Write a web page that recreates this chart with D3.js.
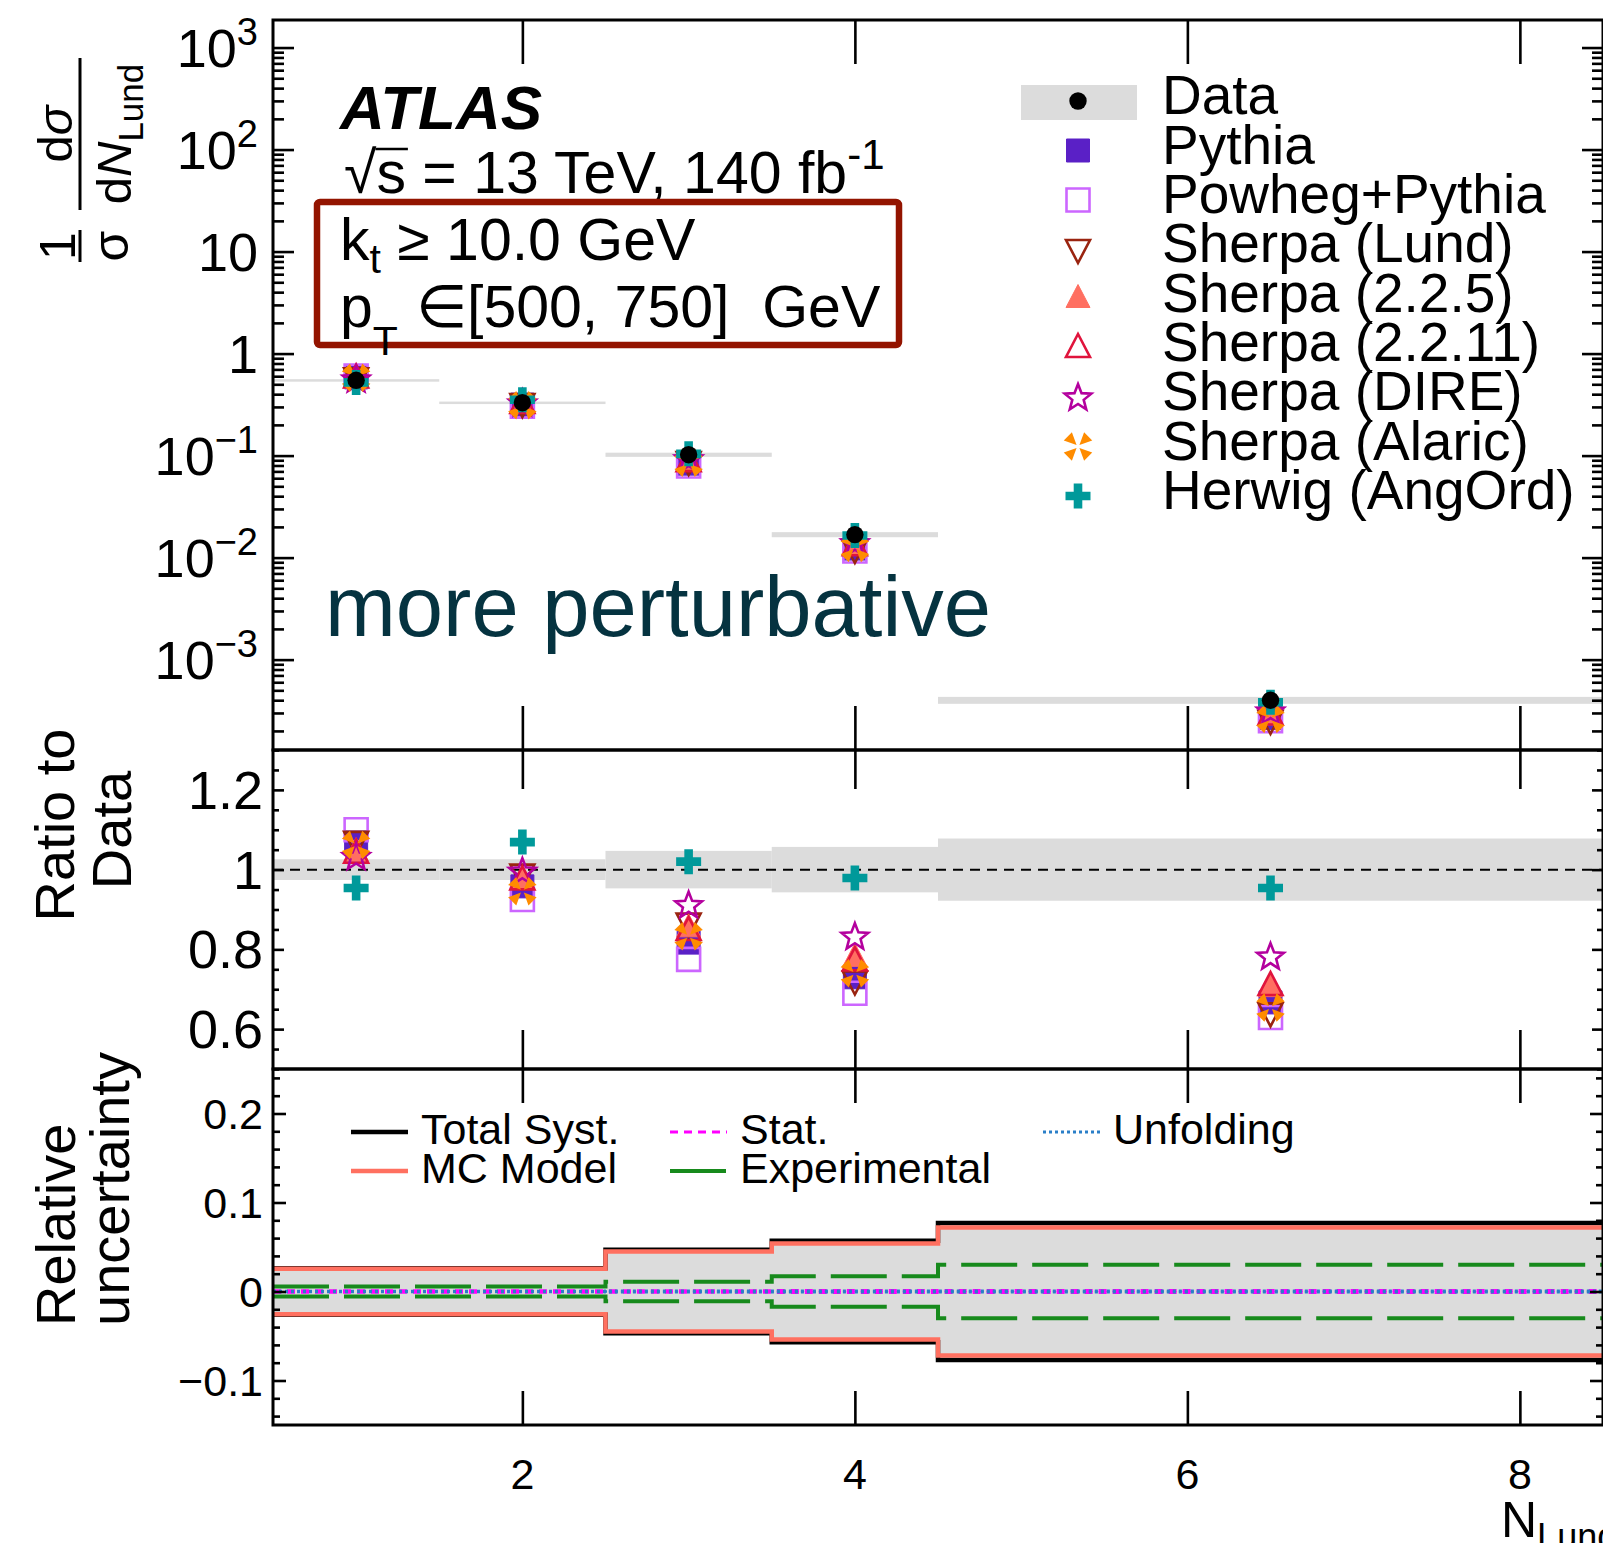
<!DOCTYPE html>
<html>
<head>
<meta charset="utf-8">
<script src="https://cdn.jsdelivr.net/npm/d3@7"></script>
<style>
  html, body { margin: 0; padding: 0; background: #fff; }
  svg { display: block; }
  text { font-family: "Liberation Sans", Arial, Helvetica, sans-serif; fill: #000; }
</style>
</head>
<body>
<svg id="chart" width="1603" height="1543"></svg>
<script>
// ---------------- data ----------------
const binEdges   = [0.5, 1.5, 2.5, 3.5, 4.5, 8.5];
const binCenters = [1, 2, 3, 4, 6.5];
const dataValues = [0.547, 0.330, 0.102, 0.0168, 0.00040];
const dataUnc    = [0.026, 0.026, 0.047, 0.057, 0.078];

const modelNames = ["Pythia", "Powheg+Pythia", "Sherpa (Lund)", "Sherpa (2.2.5)",
                    "Sherpa (2.2.11)", "Sherpa (DIRE)", "Sherpa (Alaric)", "Herwig (AngOrd)"];
const ratioPythia     = [1.068, 0.958, 0.817, 0.730, 0.667];
const ratioPowheg     = [1.100, 0.925, 0.775, 0.690, 0.629];
const ratioSherpaLund = [1.072, 0.990, 0.867, 0.722, 0.642];
const ratioSherpa225  = [1.045, 0.975, 0.854, 0.780, 0.704];
const ratioSherpa2211 = [1.040, 0.973, 0.846, 0.770, 0.708];
const ratioSherpaDire = [1.033, 0.996, 0.912, 0.833, 0.783];
const ratioSherpaAlaric = [1.062, 0.946, 0.833, 0.740, 0.654];
const ratioHerwig     = [0.954, 1.069, 1.020, 0.979, 0.954];

// relative uncertainties
const uncTotalSyst    = [0.026, 0.026, 0.047, 0.057, 0.077];
const uncMCModel      = [0.0255, 0.0255, 0.045, 0.054, 0.072];
const uncExperimental = [0.0055, 0.0055, 0.011, 0.017, 0.030];
const uncStat         = [0.0008, 0.0008, 0.0009, 0.0010, 0.0012];
const uncUnfolding    = [0.0004, 0.0004, 0.0005, 0.0005, 0.0006];

const topMajorTicks = [1e-3, 1e-2, 1e-1, 1, 10, 100, 1000];
const topTickLabels = [["10", "\u22123"], ["10", "\u22122"], ["10", "\u22121"], ["1", ""], ["10", ""], ["10", "2"], ["10", "3"]];
const ratioTicks = [0.6, 0.8, 1.0, 1.2];
const ratioTickLabels = ["0.6", "0.8", "1", "1.2"];
const uncTicks = [-0.1, 0, 0.1, 0.2];
const uncTickLabels = ["\u22120.1", "0", "0.1", "0.2"];
const xTicks = [2, 4, 6, 8];
const xTickLabels = ["2", "4", "6", "8"];

// ---------------- styles ----------------
const modelRatios = [ratioPythia, ratioPowheg, ratioSherpaLund, ratioSherpa225,
                     ratioSherpa2211, ratioSherpaDire, ratioSherpaAlaric, ratioHerwig];
const modelStyles = [
  {shape: "square", fill: "#5a20c6", stroke: "#5a20c6"},
  {shape: "square", fill: "none",    stroke: "#cc66ff"},
  {shape: "triDown", fill: "none",   stroke: "#9a2410"},
  {shape: "triUp", fill: "#ff6f61",  stroke: "#ff6f61"},
  {shape: "triUp", fill: "none",     stroke: "#e0143c"},
  {shape: "star", fill: "none",      stroke: "#b4009e"},
  {shape: "xTri", fill: "#ff8c00",   stroke: "none"},
  {shape: "cross", fill: "#00999a",  stroke: "none"}
];
const GREY = "#dcdcdc";

function markerPath(shape) {
  if (shape === "square") { const s = 23; return `M${-s/2},${-s/2}h${s}v${s}h${-s}Z`; }
  if (shape === "triDown") { return "M-12,-9L12,-9L0,14Z"; }
  if (shape === "triUp") { return "M-12,9L12,9L0,-14Z"; }
  if (shape === "star") {
    let p = []; const R = 14, r = 6;
    for (let k = 0; k < 10; k++) {
      const a = -Math.PI / 2 + k * Math.PI / 5, rr = k % 2 ? r : R;
      p.push([rr * Math.cos(a), rr * Math.sin(a) + 1]);
    }
    return "M" + p.map(d => d.join(",")).join("L") + "Z";
  }
  if (shape === "xTri") {
    let s = "";
    [45, 135, 225, 315].forEach(deg => {
      const a = deg * Math.PI / 180, w = 0.38, R = 15.5, r0 = 2;
      const p0 = [r0 * Math.cos(a), r0 * Math.sin(a)];
      const p1 = [R * Math.cos(a - w), R * Math.sin(a - w)];
      const p2 = [R * Math.cos(a + w), R * Math.sin(a + w)];
      s += `M${p0}L${p1}L${p2}Z`;
    });
    return s;
  }
  if (shape === "cross") {
    const L = 12.5, w = 4.3;
    return `M${-w},${-L}H${w}V${-w}H${L}V${w}H${w}V${L}H${-w}V${w}H${-L}V${-w}H${-w}Z`;
  }
}
function drawMarker(g, style, x, y) {
  g.append("path").attr("d", markerPath(style.shape))
    .attr("transform", `translate(${x},${y})`)
    .attr("fill", style.fill).attr("stroke", style.stroke)
    .attr("stroke-width", style.fill === "none" ? 2.6 : 1)
    .attr("stroke-linejoin", "miter");
}

// ---------------- layout ----------------
const svg = d3.select("#chart");
const X0 = 273, X1 = 1603;
const P1 = {t: 20, b: 750}, P2 = {t: 750, b: 1069}, P3 = {t: 1069, b: 1425};

const x = d3.scaleLinear().domain([0.5, 8.5]).range([X0, X1]);
const yTop = d3.scaleLog().domain([Math.pow(10, -3.886), Math.pow(10, 3.27)]).range([P1.b, P1.t]);
const yRat = d3.scaleLinear().domain([0.5, 1.3]).range([P2.b, P2.t]);
const yUnc = d3.scaleLinear().domain([-0.15, 0.25]).range([P3.b, P3.t]);

const bins = binCenters.map((c, i) => ({c, lo: binEdges[i], hi: binEdges[i + 1], i}));

// ================= TOP PANEL =================
const gTop = svg.append("g");
gTop.selectAll("rect.unc").data(bins).join("rect")
  .attr("x", d => x(d.lo)).attr("width", d => x(d.hi) - x(d.lo))
  .attr("y", d => yTop(dataValues[d.i] * (1 + dataUnc[d.i])))
  .attr("height", d => Math.max(2.5, yTop(dataValues[d.i] * (1 - dataUnc[d.i])) - yTop(dataValues[d.i] * (1 + dataUnc[d.i]))))
  .attr("fill", GREY);
modelRatios.forEach((r, m) => {
  bins.forEach(d => drawMarker(gTop, modelStyles[m], x(d.c), yTop(dataValues[d.i] * r[d.i])));
});
gTop.selectAll("circle.data").data(bins).join("circle")
  .attr("cx", d => x(d.c)).attr("cy", d => yTop(dataValues[d.i])).attr("r", 8.7).attr("fill", "#000");

// ================= RATIO PANEL =================
const gRat = svg.append("g");
gRat.selectAll("rect.band").data(bins).join("rect")
  .attr("x", d => x(d.lo)).attr("width", d => x(d.hi) - x(d.lo))
  .attr("y", d => yRat(1 + dataUnc[d.i])).attr("height", d => yRat(1 - dataUnc[d.i]) - yRat(1 + dataUnc[d.i]))
  .attr("fill", GREY);
gRat.append("line").attr("x1", X0).attr("x2", X1).attr("y1", yRat(1)).attr("y2", yRat(1))
  .attr("stroke", "#000").attr("stroke-width", 2).attr("stroke-dasharray", "10,7");
modelRatios.forEach((r, m) => {
  bins.forEach(d => drawMarker(gRat, modelStyles[m], x(d.c), yRat(r[d.i])));
});

// ================= UNCERTAINTY PANEL =================
const gUnc = svg.append("g");
function stepPts(vals, sign) {
  const pts = [];
  bins.forEach(d => { pts.push([d.lo, sign * vals[d.i]]); pts.push([d.hi, sign * vals[d.i]]); });
  return pts;
}
const stepLine = d3.line().x(p => x(p[0])).y(p => yUnc(p[1]));
const area = d3.area().x(p => x(p[0])).y0(p => yUnc(-p[1])).y1(p => yUnc(p[1]));
gUnc.append("path").attr("d", area(stepPts(uncTotalSyst, 1))).attr("fill", GREY);
function drawPair(vals, color, width, dash) {
  [1, -1].forEach(s => {
    gUnc.append("path").attr("d", stepLine(stepPts(vals, s)))
      .attr("fill", "none").attr("stroke", color).attr("stroke-width", width)
      .attr("stroke-dasharray", dash || null);
  });
}
drawPair(uncTotalSyst, "#000", 4.5);
drawPair(uncMCModel, "#ff7060", 4.5);
drawPair(uncExperimental, "#178a1c", 4, "56,15");
drawPair(uncStat, "#ff00ff", 3, "8,6");
drawPair(uncUnfolding, "#2a7fc8", 3, "3,3");

// ================= FRAMES & AXES =================
function frame(P, xMajor, yMain, yMajorVals, yMinorVals, yMajLen, yMinLen) {
  const g = svg.append("g");
  const axB = d3.axisBottom(x).tickValues(xTicks).tickSize(-xMajor).tickFormat("");
  const axT = d3.axisTop(x).tickValues(xTicks).tickSize(-xMajor).tickFormat("");
  g.append("g").attr("transform", `translate(0,${P.b})`).call(axB);
  g.append("g").attr("transform", `translate(0,${P.t})`).call(axT);
  [[d3.axisLeft, X0], [d3.axisRight, X1]].forEach(([fn, xp]) => {
    g.append("g").attr("transform", `translate(${xp},0)`).call(fn(yMain).tickValues(yMajorVals).tickSize(-yMajLen).tickFormat(""));
    g.append("g").attr("transform", `translate(${xp},0)`).call(fn(yMain).tickValues(yMinorVals).tickSize(-yMinLen).tickFormat(""));
  });
  g.selectAll(".domain").remove();
  g.selectAll(".tick line").attr("stroke", "#000").attr("stroke-width", 2.6);
  g.append("rect").attr("x", X0).attr("y", P.t).attr("width", X1 - X0).attr("height", P.b - P.t)
    .attr("fill", "none").attr("stroke", "#000").attr("stroke-width", 3);
}
const logTicks = yTop.ticks();
const topMinor = logTicks.filter(v => !topMajorTicks.some(t => Math.abs(t - v) / t < 1e-6));
frame(P1, 44, yTop, topMajorTicks, topMinor, 21, 11);
const ratMinor = d3.range(10, 27).map(k => k * 0.05).filter(v => !ratioTicks.some(t => Math.abs(t - v) < 1e-6));
frame(P2, 39, yRat, ratioTicks, ratMinor, 11, 6);
const uncMinor = d3.range(-7, 13).map(k => k * 0.02).filter(v => !uncTicks.some(t => Math.abs(t - v) < 1e-6));
frame(P3, 34, yUnc, uncTicks, uncMinor, 13, 7);

// tick labels
const gLab = svg.append("g");
topMajorTicks.forEach((v, i) => {
  const t = gLab.append("text").attr("x", 258).attr("y", yTop(v) + 19).attr("text-anchor", "end").attr("font-size", 54);
  t.append("tspan").text(topTickLabels[i][0]);
  if (topTickLabels[i][1]) t.append("tspan").attr("dy", -22).attr("font-size", 38).text(topTickLabels[i][1]);
});
ratioTicks.forEach((v, i) => {
  gLab.append("text").attr("x", 263).attr("y", yRat(v) + 19).attr("text-anchor", "end").attr("font-size", 54).text(ratioTickLabels[i]);
});
uncTicks.forEach((v, i) => {
  gLab.append("text").attr("x", 263).attr("y", yUnc(v) + 15).attr("text-anchor", "end").attr("font-size", 43).text(uncTickLabels[i]);
});
xTicks.forEach((v, i) => {
  gLab.append("text").attr("x", x(v)).attr("y", 1489).attr("text-anchor", "middle").attr("font-size", 43).text(xTickLabels[i]);
});

// axis titles
const xt = svg.append("text").attr("x", 1501).attr("y", 1537).attr("font-size", 50);
xt.append("tspan").text("N");
xt.append("tspan").attr("dy", 12).attr("font-size", 36).text("Lund");

const yt = svg.append("g").attr("transform", "translate(80,0) rotate(-90)");
yt.append("line").attr("x1", -262).attr("x2", -230).attr("y1", 0).attr("y2", 0).attr("stroke", "#000").attr("stroke-width", 3);
yt.append("text").attr("x", -246).attr("y", -5).attr("text-anchor", "middle").attr("font-size", 50).text("1");
yt.append("text").attr("x", -246).attr("y", 48).attr("text-anchor", "middle").attr("font-size", 50).text("\u03c3");
yt.append("line").attr("x1", -210).attr("x2", -58).attr("y1", 0).attr("y2", 0).attr("stroke", "#000").attr("stroke-width", 3);
const num = yt.append("text").attr("x", -134).attr("y", -8).attr("text-anchor", "middle").attr("font-size", 49);
num.append("tspan").text("d");
num.append("tspan").attr("font-style", "italic").text("\u03c3");
const den = yt.append("text").attr("x", -134).attr("y", 51).attr("text-anchor", "middle").attr("font-size", 49);
den.append("tspan").text("d");
den.append("tspan").attr("font-style", "italic").text("N");
den.append("tspan").attr("dy", 12).attr("font-size", 35).text("Lund");

const yr = svg.append("g").attr("transform", "rotate(-90)");
yr.append("text").attr("x", -825).attr("y", 74).attr("text-anchor", "middle").attr("font-size", 56).text("Ratio to");
yr.append("text").attr("x", -830).attr("y", 131).attr("text-anchor", "middle").attr("font-size", 56).text("Data");
yr.append("text").attr("x", -1326).attr("y", 75).attr("text-anchor", "start").attr("font-size", 56).text("Relative");
yr.append("text").attr("x", -1326).attr("y", 129).attr("text-anchor", "start").attr("font-size", 56).text("uncertainty");

// ================= ANNOTATIONS =================
svg.append("text").attr("x", 340).attr("y", 129).attr("font-size", 62).attr("font-weight", "bold").attr("font-style", "italic").text("ATLAS");
const sq = svg.append("text").attr("x", 344).attr("y", 193).attr("font-size", 59);
sq.append("tspan").text("\u221A");
sq.append("tspan").text("s");
sq.append("tspan").text(" = 13 TeV, 140 fb");
sq.append("tspan").attr("dy", -24).attr("font-size", 42).text("-1");
{
  const node = sq.node();
  const x0 = node.getStartPositionOfChar(1).x, x1 = node.getEndPositionOfChar(1).x;
  svg.append("line").attr("x1", x0 - 1).attr("x2", x1 + 2).attr("y1", 149).attr("y2", 149).attr("stroke", "#000").attr("stroke-width", 2.5);
}
svg.append("rect").attr("x", 317).attr("y", 202).attr("width", 582).attr("height", 143).attr("rx", 3)
  .attr("fill", "none").attr("stroke", "#931400").attr("stroke-width", 6.5);
const kt = svg.append("text").attr("x", 340).attr("y", 260).attr("font-size", 59);
kt.append("tspan").text("k");
kt.append("tspan").attr("dy", 13).attr("font-size", 41).text("t");
kt.append("tspan").attr("dy", -13).text(" \u2265 10.0 GeV");
const pt = svg.append("text").attr("x", 340).attr("y", 327).attr("font-size", 59);
pt.append("tspan").text("p");
pt.append("tspan").attr("dy", 28).attr("font-size", 41).text("T");
pt.append("tspan").attr("dy", -28).attr("x", 416).text("\u2208[500, 750]\u00A0 GeV");

svg.append("text").attr("x", 325).attr("y", 636).attr("font-size", 85).style("fill", "#053340").text("more perturbative");

// ================= LEGENDS =================
const legX = 1078, legTextX = 1162;
const legRows = [101, 150.5, 200, 249, 298.5, 348, 397, 446.5, 496];
const gLeg = svg.append("g");
gLeg.append("rect").attr("x", 1021).attr("y", 85).attr("width", 116).attr("height", 35).attr("fill", GREY);
gLeg.append("circle").attr("cx", legX).attr("cy", legRows[0]).attr("r", 8.7).attr("fill", "#000");
gLeg.append("text").attr("x", legTextX).attr("y", legRows[0] + 13).attr("font-size", 55).text("Data");
modelNames.forEach((n, m) => {
  drawMarker(gLeg, modelStyles[m], legX, legRows[m + 1]);
  gLeg.append("text").attr("x", legTextX).attr("y", legRows[m + 1] + 13).attr("font-size", 55).text(n);
});

const uncLegend = [
  {name: "Total Syst.", color: "#000", w: 4.5, dash: null, x: 351, y: 1132},
  {name: "MC Model", color: "#ff7060", w: 4.5, dash: null, x: 351, y: 1171},
  {name: "Stat.", color: "#ff00ff", w: 3, dash: "8,6", x: 670, y: 1132},
  {name: "Experimental", color: "#178a1c", w: 4, dash: "56,15", x: 670, y: 1171},
  {name: "Unfolding", color: "#2a7fc8", w: 3, dash: "3,3", x: 1043, y: 1132}
];
uncLegend.forEach(l => {
  gLeg.append("line").attr("x1", l.x).attr("x2", l.x + 57).attr("y1", l.y).attr("y2", l.y)
    .attr("stroke", l.color).attr("stroke-width", l.w).attr("stroke-dasharray", l.dash);
  gLeg.append("text").attr("x", l.x + 70).attr("y", l.y + 12).attr("font-size", 43).text(l.name);
});
</script>
</body>
</html>
